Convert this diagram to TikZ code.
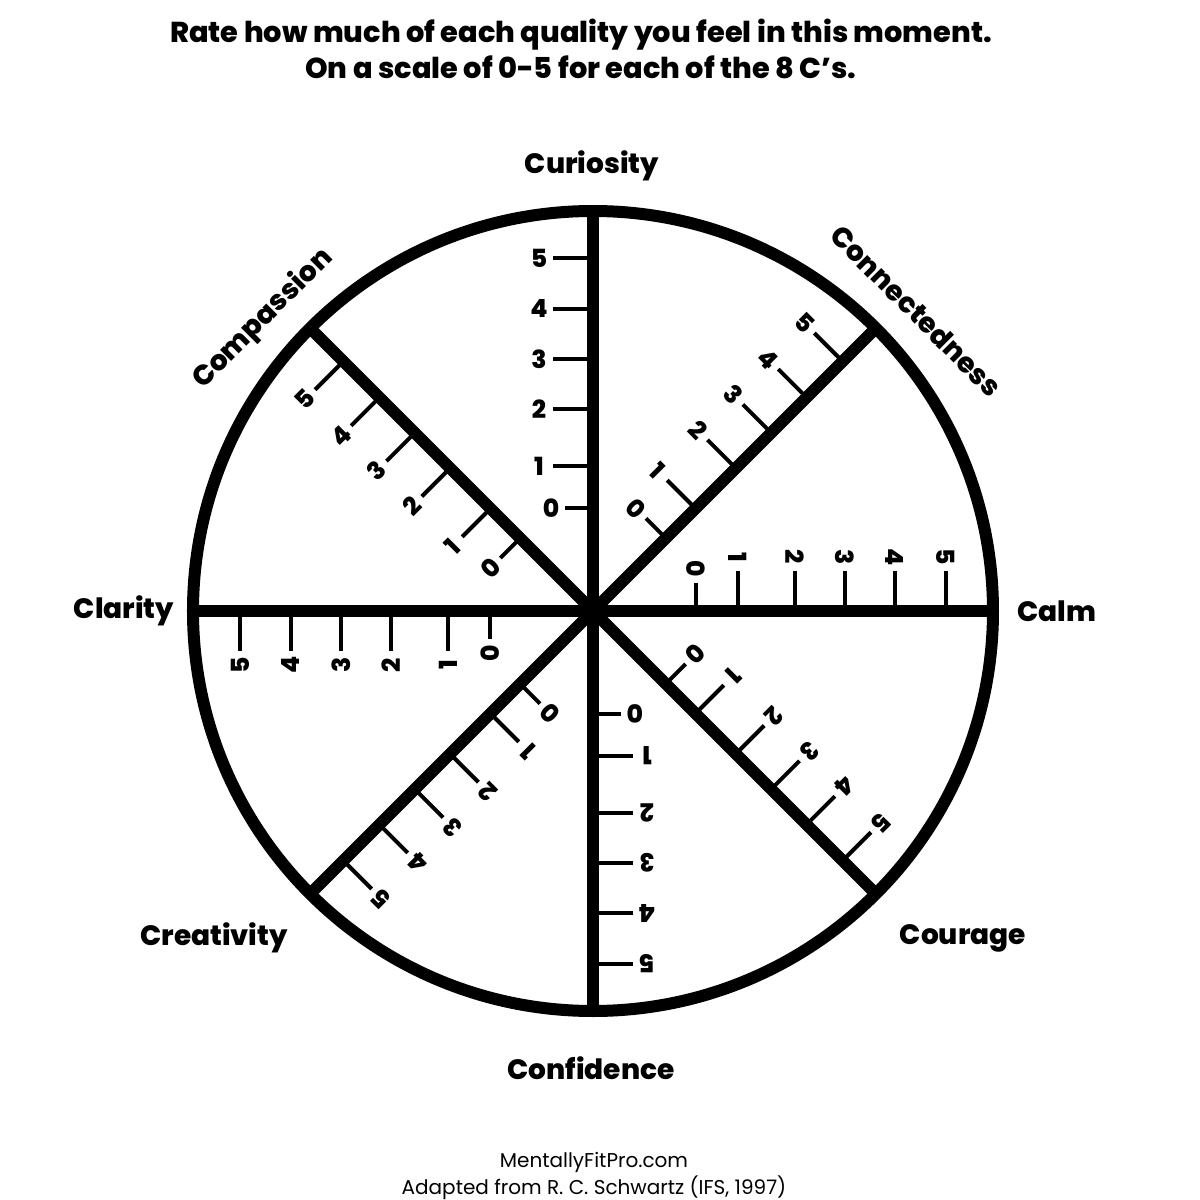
\documentclass[tikz,border=0pt]{standalone}
\usepackage{fontspec}
\setmainfont{Poppins}[BoldFont={Poppins ExtraBold}]
\tikzset{
  rim/.style={draw=black,line width=6pt},
  spoke/.style={draw=black,line width=6pt},
  tickmark/.style={draw=black,line width=2pt},
  digit/.style={font=\bfseries\fontsize{12.5}{14}\selectfont,inner sep=0pt},
  quality/.style={font=\bfseries\fontsize{14}{16}\selectfont,inner sep=1pt},
  heading/.style={font=\bfseries\fontsize{14.4}{18}\selectfont,align=center},
  credit/.style={font=\fontsize{10}{13.5}\selectfont,align=center}}

\begin{document}
\begin{tikzpicture}[x=.5pt,y=.5pt]
\fill[white] (-593,-589) rectangle (607,611);
\useasboundingbox (-593,-589) rectangle (607,611);
\node[heading] (head) at (-12,562) {Rate how much of each quality you feel in this moment.\\On a scale of 0-5 for each of the 8 C's.};
\coordinate (hub) at (0,0);
\draw[rim] (hub) circle[radius=400];
% one spoke with its scale, turned eight times
\foreach \a in {0,45,...,315}{
  \draw[spoke] (hub) -- (\a:400);
  \begin{scope}[rotate=\a-90]
  \foreach \k/\d/\l in {0/103/28,1/145/40,2/202/40,3/252/40,4/302/40,5/353/40}{
    \draw[tickmark] (0,\d) -- (-\l,\d);
    \node[digit,rotate=\a-90] (n\a-\k) at (-\l-14,\d) {\k};
  }
  \end{scope}
}
\node[quality] (curiosity) at (-1,445) {Curiosity};
\node[quality,rotate=-45] (connectedness) at (323,300) {Connectedness};
\node[quality] (calm) at (464,0) {Calm};
\node[quality] (courage) at (370,-327) {Courage};
\node[quality] (confidence) at (-2,-457) {Confidence};
\node[quality] (creativity) at (-379,-327) {Creativity};
\node[quality] (clarity) at (-469,0) {Clarity};
\node[quality,rotate=45] (compassion) at (-330,292) {Compassion};
\node[credit] (source) at (1,-565) {MentallyFitPro.com\\Adapted from R. C. Schwartz (IFS, 1997)};
\end{tikzpicture}
\end{document}
